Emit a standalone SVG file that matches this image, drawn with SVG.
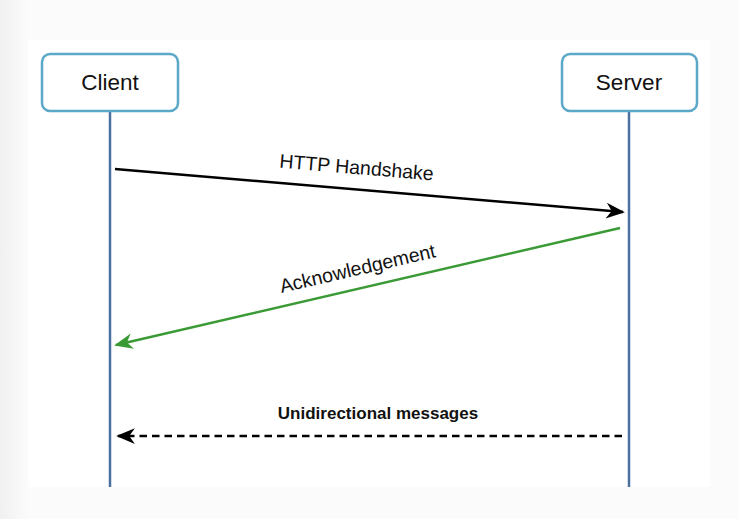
<svg xmlns="http://www.w3.org/2000/svg" width="739" height="519" viewBox="0 0 739 519">
<defs>
<style>
.box{fill:#fff;stroke:#5ba8c9;stroke-width:2.5}
.life{stroke:#4b6f9e;stroke-width:2.5}
text{font-family:'Liberation Sans',Arial,Helvetica,sans-serif;fill:#111}
</style>
<linearGradient id="lg" x1="0" y1="0" x2="1" y2="0"><stop offset="0" stop-color="#f0f0f0"/><stop offset="1" stop-color="#fbfbfb"/></linearGradient>
<marker id="ab" viewBox="0 0 10 10" refX="9" refY="5" markerWidth="7.5" markerHeight="7.5" orient="auto" markerUnits="strokeWidth"><path d="M0,0.8 L10,5 L0,9.2 L3,5 Z" fill="#000"/></marker>
<marker id="ag" viewBox="0 0 10 10" refX="9" refY="5" markerWidth="7.5" markerHeight="7.5" orient="auto" markerUnits="strokeWidth"><path d="M0,0.8 L10,5 L0,9.2 L3,5 Z" fill="#3a9a35"/></marker>
</defs>
<rect width="739" height="519" fill="#fbfbfb"/>
<rect width="28" height="519" fill="url(#lg)"/>
<rect x="28" y="40" width="682" height="447" fill="#ffffff"/>
<g id="lifelines">
<line class="life" x1="110" y1="111" x2="110" y2="487"/>
<line class="life" x1="629" y1="111" x2="629" y2="487"/>
</g>
<g id="client">
<rect class="box" x="42" y="54" width="136" height="57" rx="8"/>
<text x="110" y="90" font-size="22.5" text-anchor="middle">Client</text>
</g>
<g id="server">
<rect class="box" x="562" y="54" width="135" height="57" rx="8"/>
<text x="629" y="90" font-size="22.5" text-anchor="middle">Server</text>
</g>
<g id="connectors">
<line x1="115" y1="169" x2="623" y2="212" stroke="#000" stroke-width="2.5" marker-end="url(#ab)"/>
<text font-size="19.5" text-anchor="middle" transform="translate(356,174) rotate(4.8)">HTTP Handshake</text>
<line x1="620" y1="228" x2="116" y2="345" stroke="#3a9a35" stroke-width="2.5" marker-end="url(#ag)"/>
<text font-size="19.5" text-anchor="middle" transform="translate(359,275) rotate(-13.1)">Acknowledgement</text>
<line x1="622" y1="436" x2="118" y2="436" stroke="#000" stroke-width="2.5" stroke-dasharray="7.5,5" marker-end="url(#ab)"/>
<text x="378" y="419" font-weight="bold" font-size="17" text-anchor="middle">Unidirectional messages</text>
</g>
</svg>
